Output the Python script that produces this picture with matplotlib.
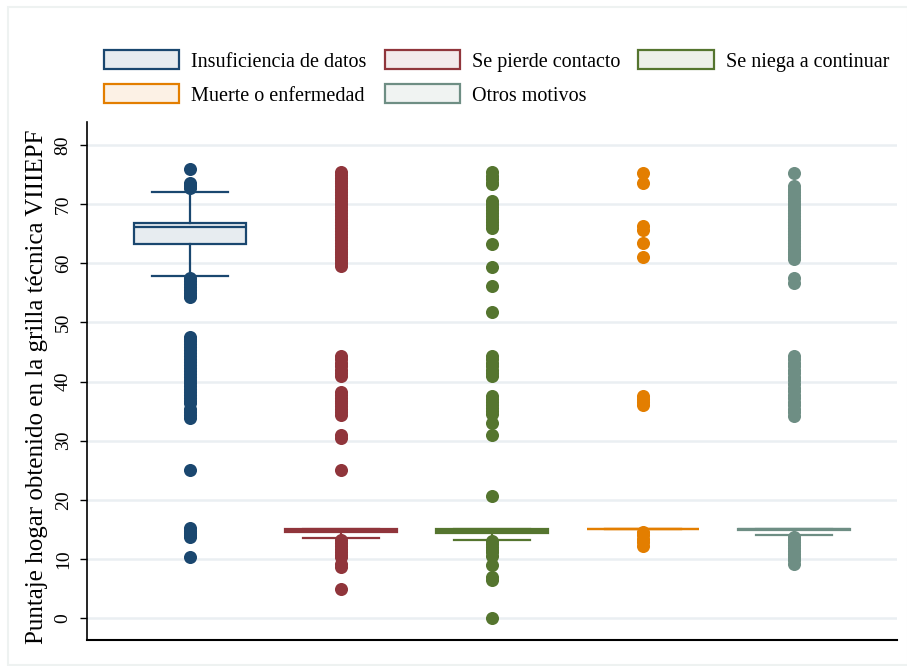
import matplotlib
matplotlib.use("Agg")
import matplotlib.pyplot as plt
from matplotlib.patches import Patch, Rectangle

plt.rcParams["font.family"] = ["Liberation Serif", "DejaVu Serif"]

# reasons for leaving the survey
categories = ["Insuficiencia de datos", "Se pierde contacto", "Se niega a continuar",
              "Muerte o enfermedad", "Otros motivos"]
colors = ["#1a476f", "#90353b", "#55752f", "#e37e00", "#6e8e84"]

# box summaries: lower whisker, q1, median, q3, upper whisker
whislo = [57.8, 13.5, 13.2, 15.0, 14.1]
q1 = [63.2, 14.5, 14.35, 15.0, 14.85]
med = [66.1, 14.8, 14.8, 15.0, 15.0]
q3 = [66.8, 15.0, 15.05, 15.0, 15.0]
whishi = [72.0, 15.0, 15.05, 15.0, 15.0]

# outside values per group
out_datos = [76.0, 73.6, 73.3, 73.0, 72.8,
             57.5, 57.0, 56.5, 56.0, 55.5, 55.0, 54.5, 54.3,
             47.6, 47.2, 46.8, 46.3, 45.8, 45.3, 44.8, 44.3, 43.8, 43.3, 42.8, 42.3,
             41.8, 41.3, 40.8, 40.3, 39.8, 39.3, 38.8, 38.3, 37.8, 37.3, 36.8, 36.3,
             35.3, 34.8, 34.3, 33.8,
             25.0, 15.2, 14.8, 14.4, 14.0, 13.8, 10.4]
out_contacto = [75.5, 75.0, 74.5, 74.0, 73.5, 73.0, 72.5, 72.0, 71.5, 71.0, 70.5,
                70.0, 69.5, 69.0, 68.5, 68.0, 67.5, 67.0, 66.5, 66.0, 65.5, 65.0,
                64.5, 64.0, 63.5, 63.0, 62.5, 62.0, 61.5, 61.0, 60.5, 60.0, 59.5,
                44.4, 43.8, 43.2, 42.6, 42.0, 41.4, 41.0,
                38.3, 37.8, 37.3, 36.8, 36.3, 35.8, 35.3, 34.8, 34.4,
                30.9, 30.4, 25.0,
                13.2, 12.7, 12.2, 11.7, 11.2, 10.7, 10.3, 9.2, 8.6, 5.0]
out_niega = [75.4, 74.8, 74.2, 73.6, 73.4,
             70.5, 70.0, 69.5, 69.0, 68.5, 68.0, 67.5, 67.0, 66.5, 66.0,
             63.3, 59.3, 56.1, 51.8,
             44.4, 43.8, 43.2, 42.6, 42.0, 41.4, 41.0,
             37.6, 37.0, 36.5, 36.0, 35.5, 35.0, 34.6, 33.0, 31.0,
             20.7,
             13.1, 12.6, 12.1, 11.6, 11.1, 10.5, 9.0, 7.0, 6.4, 0.0]
out_muerte = [75.3, 73.5, 66.3, 65.7, 63.4, 61.0,
              37.6, 37.1, 36.5, 36.0,
              14.6, 14.0, 13.4, 12.8, 12.2]
out_otros = [75.3, 73.0, 72.5, 72.0, 71.5, 71.0, 70.5, 70.0, 69.5, 69.0, 68.5,
             68.0, 67.5, 67.0, 66.5, 66.0, 65.5, 65.0, 64.5, 64.0, 63.5, 63.0,
             62.5, 62.0, 61.5, 61.0, 60.7, 57.5, 56.6,
             44.4, 43.8, 43.2, 42.6, 42.0, 41.4, 40.8, 40.2, 39.6, 39.0, 38.4,
             37.8, 37.2, 36.6, 36.0, 35.4, 34.8, 34.2,
             13.8, 13.3, 12.8, 12.3, 11.8, 11.3, 10.8, 10.3, 9.8, 9.2]
outliers = [out_datos, out_contacto, out_niega, out_muerte, out_otros]

yticks = [0, 10, 20, 30, 40, 50, 60, 70, 80]

fig = plt.figure(figsize=(9.07, 6.66), dpi=100)
ax = fig.add_axes([87 / 907, 1 - 640 / 666, 810 / 907, 518 / 666])

for i, c in enumerate(colors):
    stats = [dict(med=med[i], q1=q1[i], q3=q3[i], whislo=whislo[i],
                  whishi=whishi[i], fliers=outliers[i])]
    ax.bxp(stats, positions=[i + 1], widths=0.74, capwidths=0.5,
           patch_artist=True, manage_ticks=False,
           boxprops=dict(facecolor=matplotlib.colors.to_rgba(c, 0.1),
                         edgecolor=c, linewidth=1.6),
           medianprops=dict(color=c, linewidth=1.6),
           whiskerprops=dict(color=c, linewidth=1.6),
           capprops=dict(color=c, linewidth=1.6),
           flierprops=dict(marker="o", markerfacecolor=c, markeredgewidth=0,
                           markersize=9.4, linestyle="none"))

ax.set_xlim(0.318, 5.682)
ax.set_ylim(-3.7, 83.9)
ax.set_xticks([])
ax.set_yticks(yticks)
ax.set_yticklabels([str(t) for t in yticks], rotation=90, va="center", fontsize=14)
ax.tick_params(axis="y", length=5, width=1, pad=6)
ax.grid(axis="y", color="#eaeff2", linewidth=1.8)
ax.set_axisbelow(True)
for s in ["top", "right"]:
    ax.spines[s].set_visible(False)
ax.spines["left"].set_linewidth(1.2)
ax.spines["bottom"].set_linewidth(1.5)

ax.set_ylabel("Puntaje hogar obtenido en la grilla técnica VIIIEPF", fontsize=18)
ax.yaxis.set_label_coords(-0.048, 0.488)

# legend filled column by column, so reorder to read row by row
order = [0, 3, 1, 4, 2]
handles = [Patch(facecolor=matplotlib.colors.to_rgba(colors[k], 0.1),
                 edgecolor=colors[k], linewidth=1.6) for k in order]
labels = [categories[k] for k in order]
fig.legend(handles, labels, ncol=3, loc="upper left",
           bbox_to_anchor=(104 / 907, 1 - 50 / 666), frameon=False,
           fontsize=14.5, handlelength=3.73, handleheight=1.1,
           handletextpad=0.6, columnspacing=0.9, labelspacing=0.62,
           borderpad=0, borderaxespad=0)

# light outer frame
fig.patches.append(Rectangle((8 / 907, 1 - 665 / 666), 900 / 907, 658 / 666,
                             transform=fig.transFigure, fill=False,
                             edgecolor="#eef2f1", linewidth=1.5))

fig.savefig("out.png", dpi=100)
